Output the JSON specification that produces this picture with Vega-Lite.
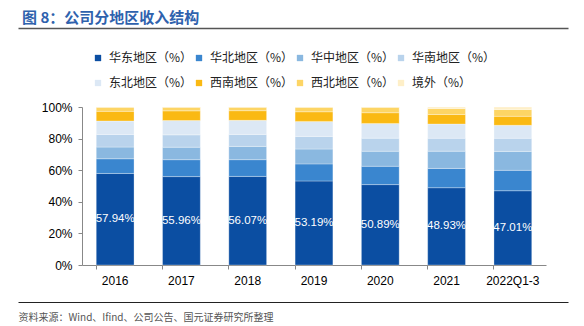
{
  "$schema": "https://vega.github.io/schema/vega-lite/v6.json",
  "width": 464,
  "height": 158,
  "autosize": {"type": "none"},
  "padding": {"left": 82, "top": 107, "right": 38, "bottom": 61},
  "background": "white",
  "config": {
    "view": {"stroke": null},
    "font": "Liberation Sans"
  },
  "title": {
    "text": "图 8：公司分地区收入结构",
    "anchor": "start",
    "frame": "group",
    "font": "Noto Sans CJK SC",
    "fontSize": 15,
    "fontWeight": "bold",
    "color": "#2F62AD",
    "dx": -60,
    "offset": 2
  },
  "datasets": {
    "main": [
      {"year": "2016", "region": "华东地区（%）", "value": 57.94},
      {"year": "2016", "region": "华北地区（%）", "value": 9.3},
      {"year": "2016", "region": "华中地区（%）", "value": 7.4},
      {"year": "2016", "region": "华南地区（%）", "value": 8.0},
      {"year": "2016", "region": "东北地区（%）", "value": 8.5},
      {"year": "2016", "region": "西南地区（%）", "value": 6.1},
      {"year": "2016", "region": "西北地区（%）", "value": 2.6},
      {"year": "2016", "region": "境外（%）", "value": 0.16},
      {"year": "2017", "region": "华东地区（%）", "value": 55.96},
      {"year": "2017", "region": "华北地区（%）", "value": 10.7},
      {"year": "2017", "region": "华中地区（%）", "value": 7.9},
      {"year": "2017", "region": "华南地区（%）", "value": 7.8},
      {"year": "2017", "region": "东北地区（%）", "value": 9.1},
      {"year": "2017", "region": "西南地区（%）", "value": 6.1},
      {"year": "2017", "region": "西北地区（%）", "value": 2.3},
      {"year": "2017", "region": "境外（%）", "value": 0.14},
      {"year": "2018", "region": "华东地区（%）", "value": 56.07},
      {"year": "2018", "region": "华北地区（%）", "value": 10.6},
      {"year": "2018", "region": "华中地区（%）", "value": 8.4},
      {"year": "2018", "region": "华南地区（%）", "value": 7.6},
      {"year": "2018", "region": "东北地区（%）", "value": 8.9},
      {"year": "2018", "region": "西南地区（%）", "value": 6.1},
      {"year": "2018", "region": "西北地区（%）", "value": 2.2},
      {"year": "2018", "region": "境外（%）", "value": 0.13},
      {"year": "2019", "region": "华东地区（%）", "value": 53.19},
      {"year": "2019", "region": "华北地区（%）", "value": 10.8},
      {"year": "2019", "region": "华中地区（%）", "value": 9.4},
      {"year": "2019", "region": "华南地区（%）", "value": 8.0},
      {"year": "2019", "region": "东北地区（%）", "value": 9.5},
      {"year": "2019", "region": "西南地区（%）", "value": 6.1},
      {"year": "2019", "region": "西北地区（%）", "value": 2.8},
      {"year": "2019", "region": "境外（%）", "value": 0.21},
      {"year": "2020", "region": "华东地区（%）", "value": 50.89},
      {"year": "2020", "region": "华北地区（%）", "value": 11.6},
      {"year": "2020", "region": "华中地区（%）", "value": 9.5},
      {"year": "2020", "region": "华南地区（%）", "value": 8.3},
      {"year": "2020", "region": "东北地区（%）", "value": 9.3},
      {"year": "2020", "region": "西南地区（%）", "value": 6.8},
      {"year": "2020", "region": "西北地区（%）", "value": 3.4},
      {"year": "2020", "region": "境外（%）", "value": 0.21},
      {"year": "2021", "region": "华东地区（%）", "value": 48.93},
      {"year": "2021", "region": "华北地区（%）", "value": 12.2},
      {"year": "2021", "region": "华中地区（%）", "value": 10.9},
      {"year": "2021", "region": "华南地区（%）", "value": 8.2},
      {"year": "2021", "region": "东北地区（%）", "value": 9.0},
      {"year": "2021", "region": "西南地区（%）", "value": 6.0},
      {"year": "2021", "region": "西北地区（%）", "value": 3.8},
      {"year": "2021", "region": "境外（%）", "value": 0.97},
      {"year": "2022Q1-3", "region": "华东地区（%）", "value": 47.01},
      {"year": "2022Q1-3", "region": "华北地区（%）", "value": 12.9},
      {"year": "2022Q1-3", "region": "华中地区（%）", "value": 12.0},
      {"year": "2022Q1-3", "region": "华南地区（%）", "value": 8.3},
      {"year": "2022Q1-3", "region": "东北地区（%）", "value": 8.2},
      {"year": "2022Q1-3", "region": "西南地区（%）", "value": 5.7},
      {"year": "2022Q1-3", "region": "西北地区（%）", "value": 4.3},
      {"year": "2022Q1-3", "region": "境外（%）", "value": 1.59}
    ]
  },
  "data": {"name": "main"},
  "layer": [
    {
      "mark": {"type": "bar", "stroke": "white", "strokeWidth": 0.6, "strokeOpacity": 0.5},
      "encoding": {
        "x": {
          "field": "year",
          "type": "nominal",
          "sort": null,
          "scale": {"paddingInner": 0.43, "paddingOuter": 0.215},
          "axis": {
            "labelAngle": 0,
            "labelFont": "Liberation Sans",
            "labelFontSize": 12,
            "labelColor": "#000000",
            "labelPadding": 6,
            "tickSize": 4,
            "bandPosition": 0,
            "domainColor": "#888888",
            "tickColor": "#888888",
            "title": "资料来源：Wind、Ifind、公司公告、国元证券研究所整理",
            "titleX": -64,
            "titleY": 55,
            "titleAlign": "left",
            "titleAnchor": "start",
            "titleBaseline": "alphabetic",
            "titleFont": "Noto Sans CJK SC",
            "titleFontSize": 10,
            "titleFontWeight": "normal",
            "titleColor": "#555555"
          }
        },
        "y": {
          "field": "value",
          "type": "quantitative",
          "stack": "zero",
          "scale": {"domain": [0, 100], "nice": false},
          "axis": {
            "values": [0, 20, 40, 60, 80, 100],
            "labelExpr": "datum.value + '%'",
            "labelFont": "Liberation Sans",
            "labelFontSize": 12,
            "labelColor": "#000000",
            "labelPadding": 6,
            "tickSize": 4,
            "grid": false,
            "domainColor": "#888888",
            "tickColor": "#888888",
            "title": null
          }
        },
        "color": {
          "field": "region",
          "type": "nominal",
          "sort": ["华东地区（%）", "华北地区（%）", "华中地区（%）", "华南地区（%）", "东北地区（%）", "西南地区（%）", "西北地区（%）", "境外（%）"],
          "scale": {
            "domain": ["华东地区（%）", "华北地区（%）", "华中地区（%）", "华南地区（%）", "东北地区（%）", "西南地区（%）", "西北地区（%）", "境外（%）"],
            "range": ["#0B4EA2", "#3A86CF", "#8AB8E0", "#B9D3EC", "#DCE8F5", "#FAB913", "#FDD565", "#FEEFC8"]
          },
          "legend": {
            "orient": "none",
            "legendX": 10,
            "legendY": -55,
            "direction": "horizontal",
            "columns": 4,
            "title": null,
            "symbolType": "square",
            "symbolSize": 40,
            "symbolStrokeWidth": 0,
            "labelFont": "Noto Sans CJK SC",
            "labelFontSize": 12,
            "labelColor": "#222222",
            "labelOffset": 5,
            "columnPadding": 0,
            "rowPadding": 13
          }
        },
        "order": {"field": "regionOrder", "type": "quantitative"}
      }
    },
    {
      "transform": [{"filter": "datum.region === '华东地区（%）'"}],
      "mark": {
        "type": "text",
        "color": "white",
        "font": "Liberation Sans",
        "fontSize": 11.5,
        "baseline": "middle",
        "align": "center",
        "text": {"expr": "format(datum.value, '.2f') + '%'"}
      },
      "encoding": {
        "x": {
          "field": "year",
          "type": "nominal",
          "sort": null,
          "scale": {"paddingInner": 0.43, "paddingOuter": 0.215},
          "axis": null
        },
        "y": {
          "field": "value",
          "type": "quantitative",
          "stack": null,
          "scale": {"domain": [0, 200], "nice": false},
          "axis": null
        }
      }
    },
    {
      "data": {"values": [{"p": 0}, {"p": 1}]},
      "mark": {"type": "point", "opacity": 0},
      "encoding": {
        "x": {
          "field": "p",
          "type": "quantitative",
          "scale": {"domain": [0, 1], "range": [-64, 486], "nice": false},
          "axis": {
            "orient": "top",
            "offset": 79,
            "domain": true,
            "domainColor": "#555555",
            "domainWidth": 1.5,
            "ticks": false,
            "labels": false,
            "grid": false,
            "title": null
          }
        }
      }
    },
    {
      "data": {"values": [{"q": 0}, {"q": 1}]},
      "mark": {"type": "point", "opacity": 0},
      "encoding": {
        "x": {
          "field": "q",
          "type": "quantitative",
          "scale": {"domain": [0, 1], "range": [-64, 486], "nice": false},
          "axis": {
            "orient": "bottom",
            "offset": 37,
            "domain": true,
            "domainColor": "#222222",
            "domainWidth": 1,
            "ticks": false,
            "labels": false,
            "grid": false,
            "title": null
          }
        }
      }
    }
  ],
  "resolve": {"scale": {"x": "independent", "y": "independent"}, "axis": {"x": "independent"}}
}
